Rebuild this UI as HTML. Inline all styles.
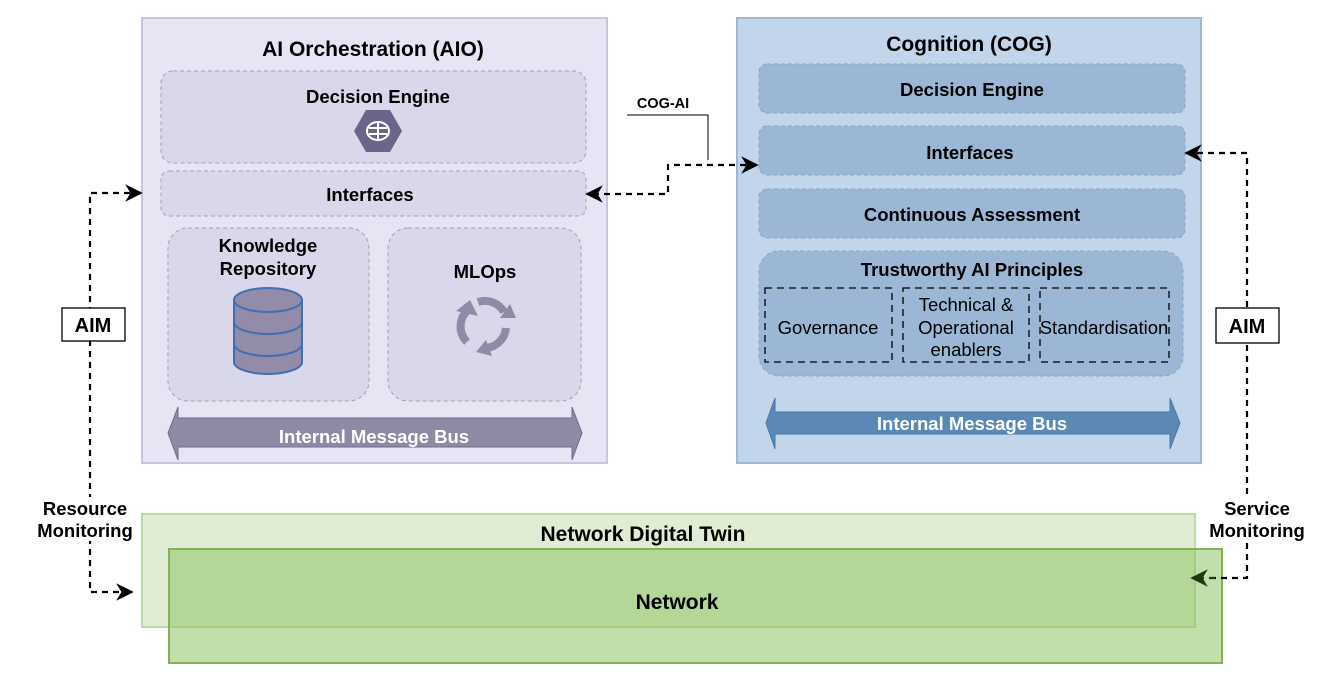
<!DOCTYPE html>
<html><head><meta charset="utf-8"><style>
body{margin:0;background:#fff}
svg{display:block;font-family:"Liberation Sans",sans-serif}
</style></head><body>
<svg width="1341" height="684" viewBox="0 0 1341 684" xmlns="http://www.w3.org/2000/svg">
<defs>
<marker id="ah" viewBox="0 0 10 10" refX="9" refY="5" markerWidth="8" markerHeight="8" orient="auto-start-reverse"><path d="M0,0 L10,5 L0,10 L3,5 z" fill="#000"/></marker>
<marker id="ahg" viewBox="0 0 10 10" refX="9" refY="5" markerWidth="8" markerHeight="8" orient="auto"><path d="M0,0 L10,5 L0,10 L3,5 z" fill="#1f3a0f"/></marker>
</defs>
<!-- AIO -->
<rect x="142" y="18" width="465" height="445" fill="#e6e5f4" stroke="#c7c5dc" stroke-width="2"/>
<text x="373" y="56" font-size="21" font-weight="bold" text-anchor="middle">AI Orchestration (AIO)</text>
<rect x="161" y="71" width="425" height="92" rx="12" fill="#d9d8ea" stroke="#a29eb9" stroke-dasharray="4,3"/>
<text x="378" y="103" font-size="18.5" font-weight="bold" text-anchor="middle">Decision Engine</text>
<polygon points="354,131 366,110 390,110 402,131 390,152 366,152" fill="#6d6589"/>
<g stroke="#fff" stroke-width="2" fill="none"><ellipse cx="378" cy="131" rx="11" ry="9"/><line x1="378" y1="122" x2="378" y2="140"/><line x1="369" y1="128" x2="387" y2="128"/><line x1="369" y1="134" x2="387" y2="134"/></g>
<rect x="161" y="171" width="425" height="45" rx="8" fill="#d9d8ea" stroke="#a29eb9" stroke-dasharray="4,3"/>
<text x="370" y="201" font-size="18.5" font-weight="bold" text-anchor="middle">Interfaces</text>
<rect x="168" y="228" width="201" height="173" rx="20" fill="#d9d8ea" stroke="#a29eb9" stroke-dasharray="4,3"/>
<text x="268" y="252" font-size="18.5" font-weight="bold" text-anchor="middle">Knowledge</text>
<text x="268" y="275" font-size="18.5" font-weight="bold" text-anchor="middle">Repository</text>
<g fill="#928ca8" stroke="#3f6fb0" stroke-width="2">
<path d="M234,300 V362 A34,12 0 0 0 302,362 V300"/>
<ellipse cx="268" cy="300" rx="34" ry="12"/>
<path d="M234,322 A34,12 0 0 0 302,322 M234,344 A34,12 0 0 0 302,344" fill="none"/>
</g>
<rect x="388" y="228" width="193" height="173" rx="20" fill="#d9d8ea" stroke="#a29eb9" stroke-dasharray="4,3"/>
<text x="485" y="278" font-size="18.5" font-weight="bold" text-anchor="middle">MLOps</text>
<g fill="none" stroke="#908aa7" stroke-width="8">
<path d="M467,342 A22,22 0 0 1 468,310"/>
<path d="M478,302 A22,22 0 0 1 504,312"/>
<path d="M506,328 A22,22 0 0 1 484,348"/>
</g>
<g fill="#908aa7"><polygon points="456,311 470,300 478,316"/><polygon points="516,318 500,318 510,304"/><polygon points="476,352 486,340 492,356"/></g>
<polygon points="168,433 178,407 178,418 572,418 572,407 582,433 572,460 572,447 178,447 178,460" fill="#8f89a6" stroke="#6f6a85"/>
<text x="374" y="443" font-size="18.5" font-weight="bold" fill="#fff" text-anchor="middle">Internal Message Bus</text>
<!-- COG -->
<rect x="737" y="18" width="464" height="445" fill="#c2d5ea" stroke="#9fb7d3" stroke-width="2"/>
<text x="969" y="51" font-size="21" font-weight="bold" text-anchor="middle">Cognition (COG)</text>
<g fill="#9cb7d6" stroke="#88a4c6" stroke-dasharray="4,3">
<rect x="759" y="64" width="426" height="49" rx="8"/>
<rect x="759" y="126" width="426" height="49" rx="8"/>
<rect x="759" y="189" width="426" height="49" rx="8"/>
<rect x="759" y="251" width="424" height="125" rx="20"/>
</g>
<g font-size="18.5" font-weight="bold" text-anchor="middle">
<text x="972" y="96">Decision Engine</text>
<text x="970" y="159">Interfaces</text>
<text x="972" y="221">Continuous Assessment</text>
<text x="972" y="276">Trustworthy AI Principles</text>
</g>
<g fill="none" stroke="#000" stroke-width="1.3" stroke-dasharray="7,5">
<rect x="765" y="288" width="127" height="74"/>
<rect x="903" y="288" width="126" height="74"/>
<rect x="1040" y="288" width="129" height="74"/>
</g>
<g font-size="18.5" text-anchor="middle">
<text x="828" y="334">Governance</text>
<text x="966" y="311">Technical &amp;</text>
<text x="966" y="334">Operational</text>
<text x="966" y="356">enablers</text>
<text x="1104" y="334">Standardisation</text>
</g>
<polygon points="766,423 775,398 775,412 1170,412 1170,398 1180,423 1170,449 1170,434 775,434 775,449" fill="#5b88b5" stroke="#4a77a4"/>
<text x="972" y="430" font-size="18.5" font-weight="bold" fill="#fff" text-anchor="middle">Internal Message Bus</text>
<!-- NDT -->
<rect x="142" y="514" width="1053" height="113" fill="#e0edd4" stroke="#bcdaa4" stroke-width="2"/>
<text x="643" y="541" font-size="21" font-weight="bold" text-anchor="middle">Network Digital Twin</text>
<rect x="169" y="549" width="1053" height="114" fill="#8fc265" fill-opacity="0.55" stroke="#7eb356" stroke-width="2"/>
<text x="677" y="609" font-size="21" font-weight="bold" text-anchor="middle">Network</text>
<!-- connectors -->
<g fill="none" stroke="#000" stroke-width="2.2" stroke-dasharray="6,5">
<path d="M757,165 H668 V194 H587" marker-start="url(#ah)" marker-end="url(#ah)"/>
<path d="M141,193 H90 V592 H132" marker-start="url(#ah)" marker-end="url(#ah)"/>
<path d="M1186,153 H1247 V578 H1215" marker-start="url(#ah)"/>
</g>
<path d="M1215,578 H1192" stroke="#1f3a0f" stroke-width="2.2" stroke-dasharray="6,5" fill="none" marker-end="url(#ahg)"/>
<path d="M627,115 H708 V160" fill="none" stroke="#000" stroke-width="1"/>
<text x="663" y="108" font-size="14.5" font-weight="bold" text-anchor="middle">COG-AI</text>
<rect x="62" y="308" width="63" height="33" fill="#fff" stroke="#000" stroke-width="1.3"/>
<text x="93" y="332" font-size="20" font-weight="bold" text-anchor="middle">AIM</text>
<rect x="1216" y="308" width="63" height="35" fill="#fff" stroke="#000" stroke-width="1.3"/>
<text x="1247" y="333" font-size="20" font-weight="bold" text-anchor="middle">AIM</text>
<rect x="36" y="497" width="100" height="44" fill="#fff"/>
<text x="85" y="515" font-size="18.5" font-weight="bold" text-anchor="middle">Resource</text>
<text x="85" y="537" font-size="18.5" font-weight="bold" text-anchor="middle">Monitoring</text>
<rect x="1206" y="497" width="102" height="44" fill="#fff"/>
<text x="1257" y="515" font-size="18.5" font-weight="bold" text-anchor="middle">Service</text>
<text x="1257" y="537" font-size="18.5" font-weight="bold" text-anchor="middle">Monitoring</text>
</svg>
</body></html>
